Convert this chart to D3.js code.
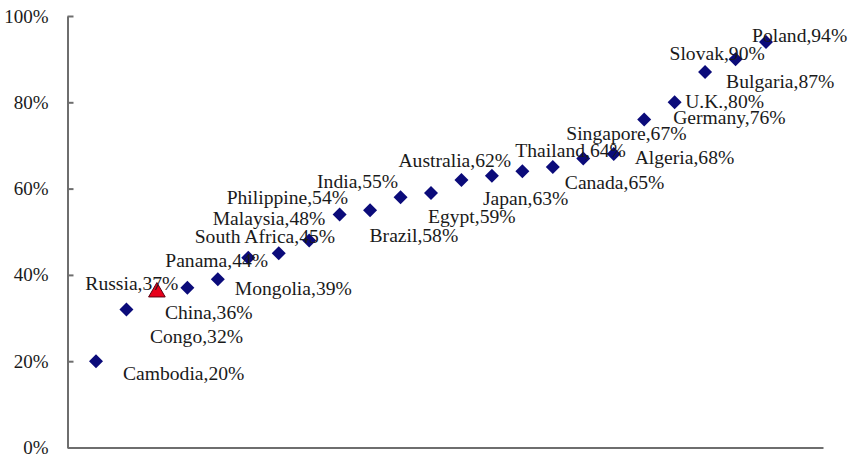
<!DOCTYPE html>
<html>
<head>
<meta charset="utf-8">
<script src="https://cdn.jsdelivr.net/npm/d3@7/dist/d3.min.js"></script>
<style>
  html, body { margin: 0; padding: 0; background: #fff; }
  svg { display: block; }
  .axis path, .axis line { stroke: #6e6e6e; stroke-width: 2; }
  .axis text { font-family: "Liberation Serif", "Times New Roman", serif; font-size: 19px; fill: #1a1a1a; }
  .lbl { font-family: "Liberation Serif", "Times New Roman", serif; font-size: 19.6px; fill: #1a1a1a; }
</style>
</head>
<body>
<svg id="chart" width="850" height="458"></svg>
<script>
// Countries in ascending order of share
const countries = [
  "Cambodia", "Congo", "China", "Russia", "Mongolia", "Panama", "South Africa",
  "Malaysia", "Philippine", "India", "Brazil", "Egypt", "Australia", "Japan",
  "Thailand", "Canada", "Singapore", "Algeria", "Germany", "U.K.", "Bulgaria",
  "Slovak", "Poland"
];
const shares = [20, 32, 36, 37, 39, 44, 45, 48, 54, 55, 58, 59, 62, 63, 64, 65, 67, 68, 76, 80, 87, 90, 94];
const highlighted = "China";
const yTicks = [0, 20, 40, 60, 80, 100];

// Label placement relative to each marker (dx, dy of the text baseline start)
const labelOffsets = [
  [27, 18.5], [23.5, 34], [8, 26.5], [-102, 2], [17, 16], [-83, 9], [-84, -10],
  [-96.5, -15], [-113, -10], [-53, -22], [-31, 45], [-3, 30.5], [-63, -13],
  [-9, 29.5], [-7, -14.5], [12, 21.5], [-17, -18], [21, 10], [29, 4], [10.5, 6],
  [21, 16], [-66, 1], [-14, 0]
];

const svg = d3.select("#chart");
const plot = { left: 67.5, right: 823, top: 16, bottom: 447.5 };

const x = d3.scalePoint().domain(countries).range([96, 766]);
const y = d3.scaleLinear().domain([0, 100]).range([plot.bottom, plot.top]);

// Y axis with inward ticks
svg.append("g")
  .attr("class", "axis")
  .attr("transform", `translate(${plot.left},0)`)
  .call(d3.axisLeft(y).tickValues(yTicks).tickFormat(d => d + "%")
    .tickSizeInner(-6).tickSizeOuter(0).tickPadding(19));

// X axis baseline
svg.append("g")
  .attr("class", "axis")
  .attr("transform", `translate(0,${plot.bottom})`)
  .call(d3.axisBottom(d3.scaleLinear().range([plot.left, plot.right])).tickValues([]).tickSizeOuter(0));

const rows = countries.map((c, i) => ({ name: c, v: shares[i], off: labelOffsets[i] }));

// Markers
svg.append("g").selectAll("path")
  .data(rows)
  .join("path")
  .attr("transform", d => `translate(${x(d.name)},${y(d.v)})`)
  .attr("d", d => d.name === highlighted
    ? d3.symbol(d3.symbolTriangle, 120)()
    : "M0,-7L7,0L0,7L-7,0Z")
  .attr("fill", d => d.name === highlighted ? "#e8001c" : "#0b0b7a")
  .attr("stroke", d => d.name === highlighted ? "#5a0010" : "none")
  .attr("stroke-width", 1);

// Value labels
svg.append("g").selectAll("text")
  .data(rows)
  .join("text")
  .attr("class", "lbl")
  .attr("x", d => x(d.name) + d.off[0])
  .attr("y", d => y(d.v) + d.off[1])
  .text(d => `${d.name},${d.v}%`);
</script>
</body>
</html>
